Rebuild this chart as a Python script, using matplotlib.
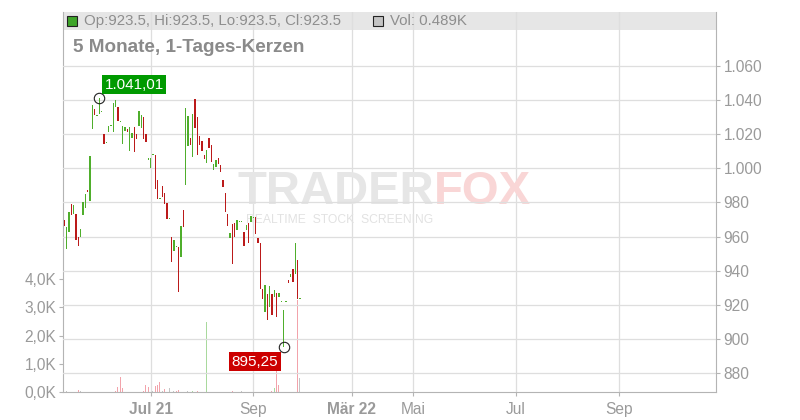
import matplotlib
matplotlib.use('Agg')
import matplotlib.pyplot as plt
from matplotlib.patches import Rectangle
import numpy as np

plt.rcParams['font.family'] = ['Liberation Sans', 'DejaVu Sans']

# daily candles (open / close), trading-day index 0..101
opens = [969.8, 952.9, 962.9, 978.9, 973.1, 973.1, 959.8, 960.0, 972.7, 976.6,
         987.4, 981.1, 1023.1, 1034.9, 1030.9, 1032.1, 1033.0, 1020.2, 1014.8, 1021.4,
         1024.8, 1021.4, 1035.8, 1035.8, 1027.2, 1014.3, 1022.1, 1022.9, 1010.4, 1017.7,
         1024.5, 1020.2, 1025.1, 1023.9, 1030.4, 1020.2, 1004.9, 1000.4, 1007.8, 1007.9,
         993.2, 982.0, 989.7, 985.4, 979.7, 970.2, 959.8, 951.8, 953.8, 953.9,
         948.2, 975.6, 990.5, 1013.4, 1017.7, 1006.9, 1040.5, 1030.4, 1019.0, 1016.3,
         1007.7, 1003.4, 1017.8, 1013.7, 999.1, 1001.0, 1005.9, 1002.0, 993.2, 985.4,
         973.3, 959.4, 967.4, 967.8, 963.9, 968.3, 968.3, 962.9, 963.9, 967.8,
         968.8, 971.0, 971.7, 959.0, 956.1, 929.1, 916.0, 926.2, 918.9, 926.2,
         924.4, 927.2, 924.4, 921.8, 895.25, 921.8, 934.6, 936.5, 941.0, 938.1,
         946.3, 923.5]
closes = [966.4, 965.8, 974.6, 972.7, 978.6, 958.2, 954.3, 964.5, 980.1, 985.0,
          986.4, 1007.3, 1037.2, 1031.3, 1031.3, 1041.01, 1033.1, 1014.3, 1014.9, 1024.9,
          1024.9, 1038.2, 1040.1, 1028.0, 1028.0, 1024.9, 1024.1, 1021.4, 1024.1, 1021.0,
          1009.4, 1017.3, 1033.9, 1031.3, 1017.1, 1015.7, 1006.1, 1005.9, 1007.9, 988.1,
          982.3, 982.1, 983.4, 979.3, 970.1, 970.3, 945.3, 958.0, 953.9, 927.7,
          966.2, 965.5, 1035.6, 1030.8, 1013.7, 1031.9, 1023.9, 1007.9, 1013.7, 1010.2,
          1005.5, 1010.8, 1012.2, 1004.0, 1002.8, 1004.9, 1002.4, 997.7, 989.3, 974.4,
          966.2, 961.9, 944.1, 960.0, 969.8, 968.4, 968.4, 954.7, 967.0, 956.3,
          972.1, 971.1, 961.6, 956.1, 929.1, 923.4, 931.6, 911.1, 931.1, 914.1,
          928.7, 913.1, 926.8, 921.9, 917.0, 921.9, 932.6, 938.1, 933.6, 956.1,
          923.2, 923.5]

# volume in thousands, colour code r / g / n
volume = [0, 0.03, 0, 0, 0, 0, 0.07, 0.03, 0, 0,
          0, 0, 0, 0, 0, 0, 0, 0, 0, 0,
          0, 0, 0.03, 0.17, 0.54, 0.15, 0, 0, 0, 0,
          0, 0, 0, 0, 0.04, 0.26, 0.19, 0, 0.03, 0.22,
          0.24, 0.35, 0.03, 0.10, 0, 0.14, 0, 0.03, 0.03, 0.07,
          0, 0, 0, 0.03, 0, 0.03, 0, 0.03, 0, 0,
          0, 2.49, 0, 0, 0, 0, 0, 0, 0, 0,
          0, 0, 0.03, 0, 0, 0, 0.03, 0, 0, 0,
          0, 0, 0, 0, 0, 0, 0, 0, 0, 0.03,
          0.15, 1.30, 0.25, 0, 0, 0, 0, 0, 0, 0,
          3.26, 0.489]
vol_kind = list('nnnnnnrnnn' 'nnnnnnnnnn' 'nnrrrrnnnn' 'nnnnrrrnnr'
                'rrnrnnnnrr' 'nnnnngnrnn' 'ngnnnnnnnn' 'nnrnnnnnnn'
                'nnnnnnnnnr' 'grrnnnnnnn' 'rn')

tick_pos = [37.3, 81.0, 123.3, 149.4, 193.6, 237.7]
tick_labels = ['Jul 21', 'Sep', 'Mär 22', 'Mai', 'Jul', 'Sep']
tick_bold = [True, False, True, False, False, False]

price_ticks = list(range(880, 1061, 20))
vol_ticks = [0, 1, 2, 3, 4]

GREEN = '#4fae2c'
RED = '#bb1a1a'
VOL_COL = {'r': '#f2a3ab', 'g': '#a9d99d', 'n': '#c4c4c4'}
GRID = '#dedede'
TXT = '#9a9a9a'
SPINE = '#b4b4b4'

fig = plt.figure(figsize=(8, 4.2), dpi=100)
vol_ax = fig.add_axes([0.0791, 0.0667, 0.8165, 0.9055])
ax = vol_ax.twinx()

x = np.arange(len(opens))
o = np.array(opens)
c = np.array(closes)

# volume
vol_ax.bar(x, volume, width=0.45, color=[VOL_COL[k] for k in vol_kind], zorder=2)
vol_ax.set_ylim(0, 13.49)
vol_ax.set_yticks(vol_ticks)
vol_ax.set_yticklabels([f'{v:.1f}K'.replace('.', ',') for v in vol_ticks])
vol_ax.set_xlim(-0.43, 279.55)
vol_ax.set_xticks(tick_pos)
vol_ax.set_xticklabels(tick_labels)
for lab, b in zip(vol_ax.get_xticklabels(), tick_bold):
    lab.set_fontweight('bold' if b else 'normal')
vol_ax.set_axisbelow(True)
vol_ax.grid(axis='x', color=GRID, lw=0.9)
vol_ax.tick_params(axis='both', colors=SPINE, labelcolor=TXT, labelsize=11.2, length=3, width=0.8)
vol_ax.tick_params(axis='x', pad=4)
vol_ax.tick_params(axis='y', pad=2)
for s in ['top', 'right']:
    vol_ax.spines[s].set_visible(False)
for s in ['left', 'bottom']:
    vol_ax.spines[s].set_color(SPINE)

# header band
vol_ax.add_patch(Rectangle((0, 0.952), 1, 0.048, transform=vol_ax.transAxes,
                           color='#e6e6e6', zorder=0.2, lw=0))

# candles
up = c >= o
colors = np.where(up, GREEN, RED)
body_lo = np.minimum(o, c)
body_h = np.maximum(np.abs(c - o), 0.6)
ax.bar(x, body_h, bottom=body_lo, width=0.62, color=colors, lw=0, zorder=3)

ax.set_ylim(868.86, 1091.9)
ax.set_yticks(price_ticks)
ax.set_yticklabels([f'{v:,}'.replace(',', '.') for v in price_ticks])
ax.grid(axis='y', color=GRID, lw=0.9, zorder=0.5)
ax.tick_params(axis='y', colors=SPINE, labelcolor=TXT, labelsize=11.2, length=3, width=0.8, pad=2)
for s in ['top', 'left', 'bottom']:
    ax.spines[s].set_visible(False)
ax.spines['right'].set_color(SPINE)

# watermark
ax.text(0.5674, 0.527, 'TRADER', transform=ax.transAxes, ha='right', va='center',
        fontsize=34, fontweight='bold', color='#e6e6e6', zorder=0.3)
ax.text(0.5674, 0.527, 'FOX', transform=ax.transAxes, ha='left', va='center',
        fontsize=34, fontweight='bold', color='#f9d6d6', zorder=0.3)
ax.text(0.4236, 0.452, 'REALTIME  STOCK  SCREENING', transform=ax.transAxes,
        ha='center', va='center', fontsize=8.7, color='#e2e2e2', zorder=0.3)

# high / low markers
hi_i = int(np.argmax(np.maximum(o, c)))
lo_i = int(np.argmin(np.minimum(o, c)))
hi_v = max(o[hi_i], c[hi_i])
lo_v = min(o[lo_i], c[lo_i])
ax.plot([hi_i, lo_i], [hi_v, lo_v], 'o', ms=7.5, mfc='none', mec='#222222', mew=0.8, zorder=5)
ax.annotate(f'{hi_v:,.2f}'.replace(',', 'X').replace('.', ',').replace('X', '.'),
            (hi_i, hi_v), xytext=(25, 10), textcoords='offset points', ha='center', va='center',
            color='white', fontsize=11, zorder=6,
            bbox=dict(boxstyle='square,pad=0.18', fc='#009a00', ec='none'))
ax.annotate(f'{lo_v:,.2f}'.replace(',', 'X').replace('.', ',').replace('X', '.'),
            (lo_i, lo_v), xytext=(-20.5, -10.6), textcoords='offset points', ha='center', va='center',
            color='white', fontsize=11, zorder=6,
            bbox=dict(boxstyle='square,pad=0.18', fc='#cc0000', ec='none'))

# header texts
last = len(opens) - 1
ax.plot([0.0129], [0.9752], 's', ms=7, mfc='#3fa52a', mec='#222222', mew=0.8,
        transform=ax.transAxes, clip_on=False, zorder=6)
ax.text(0.0317, 0.9755, f'Op:{o[last]}, Hi:{o[last]}, Lo:{c[last]}, Cl:{c[last]}',
        transform=ax.transAxes, va='center', ha='left', fontsize=10.8, color='#8e8e8e')
ax.plot([0.4813], [0.9752], 's', ms=7, mfc='#c4c4c4', mec='#222222', mew=0.8,
        transform=ax.transAxes, clip_on=False, zorder=6)
ax.text(0.5001, 0.9755, f'Vol: {volume[last]}K', transform=ax.transAxes, va='center',
        ha='left', fontsize=10.8, color='#8e8e8e')
ax.text(0.0144, 0.9059, '5 Monate, 1-Tages-Kerzen', transform=ax.transAxes, va='center',
        ha='left', fontsize=13.6, fontweight='bold', color='#8a8a8a')

fig.savefig('out.png', dpi=100)
